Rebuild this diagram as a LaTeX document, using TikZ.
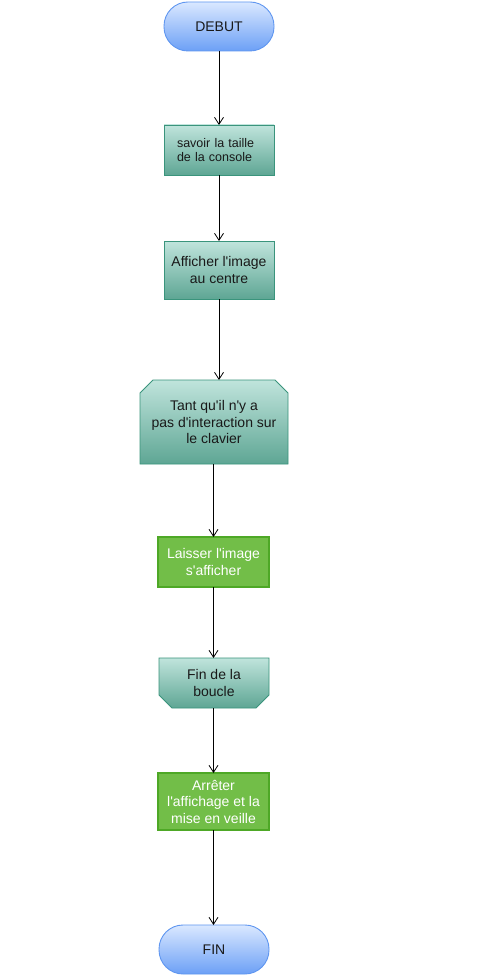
\documentclass[tikz,border=0pt]{standalone}
\usepackage{fontspec}
\setmainfont{Liberation Sans}
\usetikzlibrary{arrows.meta,backgrounds}
\newcommand\apos{\textquotesingle}
\definecolor{bluetop}{RGB}{218,232,255}
\definecolor{bluebot}{RGB}{108,160,246}
\definecolor{blueline}{RGB}{95,150,240}
\definecolor{tealtop}{RGB}{192,228,220}
\definecolor{tealbot}{RGB}{94,166,148}
\definecolor{tealline}{RGB}{58,148,124}
\definecolor{grfill}{RGB}{114,190,72}
\definecolor{grline}{RGB}{78,168,38}
\begin{document}
\begin{tikzpicture}[x=1pt,y=-1pt,
  base/.style={inner sep=2pt,outer sep=0pt,align=center,
    font=\fontsize{14}{16.5}\selectfont,text=black!90},
  term/.style={base,draw=blueline,line width=0.9pt,top color=bluetop,bottom color=bluebot,
    rounded corners=24pt,minimum width=110pt,minimum height=49pt},
  proc/.style={base,draw=tealline,line width=0.9pt,top color=tealtop,bottom color=tealbot,
    minimum width=110pt},
  plainbox/.style={base},
  chamf/.style={draw=tealline,line width=0.9pt,top color=tealtop,bottom color=tealbot},
  act/.style={base,draw=grline,line width=1.4pt,fill=grfill,text=white,
    minimum width=111pt},
  conn/.style={draw=black,line width=0.8pt,-{Straight Barb[length=7pt,width=9pt]}}
]
\useasboundingbox (0,0) rectangle (496,976);

\node[term] (debut) at (219,26.5) {DEBUT};
\node[proc,minimum height=50pt,text width=84pt,align=left,
  font=\fontsize{12.5}{14.5}\selectfont] (taille) at (219,150)
  {savoir la taille\\de la console};
\node[proc,minimum height=58pt] (aff) at (219,270) {Afficher l\apos image\\au centre};
\node[plainbox,minimum width=148pt,minimum height=84pt] (tant) at (214,422)
  {Tant qu\apos il n\apos y a\\pas d\apos interaction sur\\le clavier};
\node[act,minimum height=50pt] (laisser) at (213.5,562) {Laisser l\apos image\\s\apos afficher};
\node[plainbox,minimum width=110pt,minimum height=50pt] (finb) at (214,683) {Fin de la\\boucle};
\node[act,minimum height=57pt] (arret) at (213.5,801.5) {Arrêter\\l\apos affichage et la\\mise en veille};
\node[term] (fin) at (214,949.5) {FIN};

\begin{pgfonlayer}{background}
\fill[white] (0,0) rectangle (496,976);
\path[chamf] (tant.south west) -- ([yshift=-13pt]tant.north west)
  -- ([xshift=13pt]tant.north west) -- ([xshift=-13pt]tant.north east)
  -- ([yshift=-13pt]tant.north east) -- (tant.south east) -- cycle;
\path[chamf] (finb.north west) -- ([yshift=13pt]finb.south west)
  -- ([xshift=13pt]finb.south west) -- ([xshift=-13pt]finb.south east)
  -- ([yshift=13pt]finb.south east) -- (finb.north east) -- cycle;
\end{pgfonlayer}

\draw[conn] (debut.south) -- (taille.north);
\draw[conn] (taille.south) -- (aff.north);
\draw[conn] (aff.south) -- (aff.south |- tant.north);
\draw[conn] (laisser.north |- tant.south) -- (laisser.north);
\draw[conn] (laisser.south) -- (laisser.south |- finb.north);
\draw[conn] (arret.north |- finb.south) -- (arret.north);
\draw[conn] (arret.south) -- (arret.south |- fin.north);
\end{tikzpicture}
\end{document}
